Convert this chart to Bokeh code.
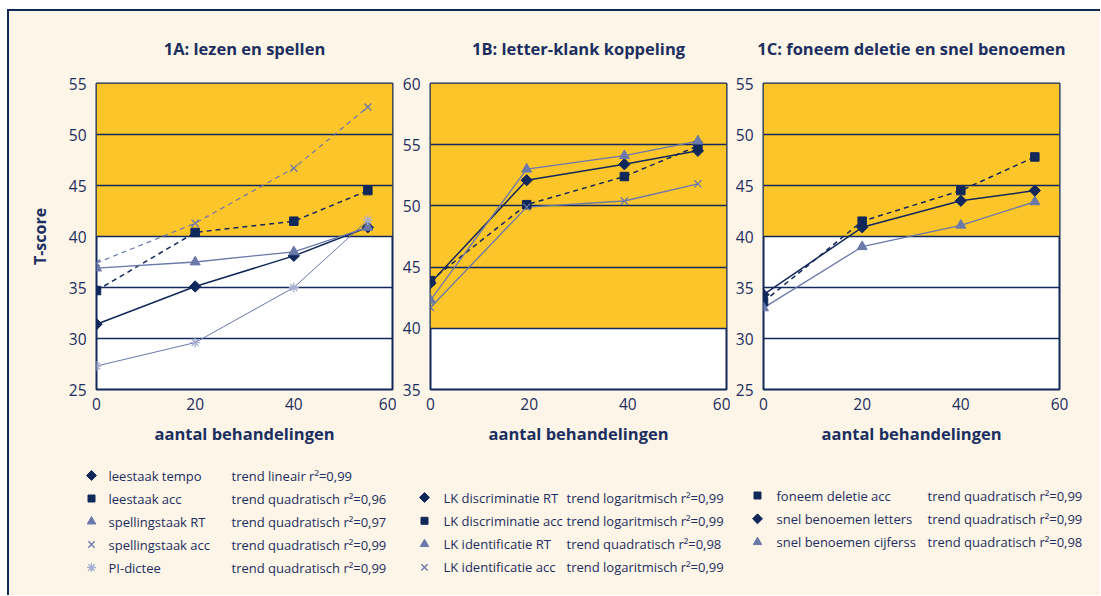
import math
from bokeh.plotting import figure
from bokeh.layouts import row, column
from bokeh.models import Range1d, BoxAnnotation, SingleIntervalTicker, ColumnDataSource
from bokeh.core.properties import value
from bokeh.embed import file_html
from bokeh.resources import INLINE

NAVY = "#11285b"
SLATE = "#6a78aa"
LIGHT = "#a7afd2"
YELLOW = "#fcc52a"
CREAM = "#fdf5e7"
TEXT = "#1b2e60"
FONT = "Open Sans"

# ---------------- data ----------------
sessions = [0, 20, 40, 55]
sessions_1b = [0, 19.5, 39.3, 54.2]
norm_threshold = 40

# 1A: lezen en spellen
leestaak_tempo = [31.4, 35.1, 38.1, 40.9]
leestaak_acc = [34.7, 40.4, 41.5, 44.5]
spellingstaak_rt = [36.9, 37.5, 38.5, 40.9]
spellingstaak_acc = [37.4, 41.3, 46.7, 52.7]
pi_dictee = [27.3, 29.6, 35.0, 41.6]

# 1B: letter-klank koppeling
lk_discriminatie_rt = [43.7, 52.1, 53.4, 54.5]
lk_discriminatie_acc = [43.9, 50.1, 52.4, 54.9]
lk_identificatie_rt = [42.3, 53.0, 54.1, 55.3]
lk_identificatie_acc = [41.7, 49.9, 50.4, 51.8]

# 1C: foneem deletie en snel benoemen
foneem_deletie_acc = [33.6, 41.5, 44.5, 47.8]
snel_benoemen_letters = [34.3, 40.9, 43.5, 44.5]
snel_benoemen_cijfers = [33.0, 39.0, 41.1, 43.4]

titles = ["1A: lezen en spellen", "1B: letter-klank koppeling", "1C: foneem deletie en snel benoemen"]
y_ranges = [(25, 55), (35, 60), (25, 55)]
x_label = "aantal behandelingen"
y_label = "T-score"

series_1a = [
    dict(name="leestaak tempo", trend="trend lineair r\u00b2=0,99", y=leestaak_tempo, marker="diamond", color=NAVY, line=NAVY, dash="solid", lw=1.5),
    dict(name="leestaak acc", trend="trend quadratisch r\u00b2=0,96", y=leestaak_acc, marker="square", color=NAVY, line=NAVY, dash="5 4", lw=1.5),
    dict(name="spellingstaak RT", trend="trend quadratisch r\u00b2=0,97", y=spellingstaak_rt, marker="triangle", color=SLATE, line=SLATE, dash="solid", lw=1.3),
    dict(name="spellingstaak acc", trend="trend quadratisch r\u00b2=0,99", y=spellingstaak_acc, marker="x", color=SLATE, line=SLATE, dash="5 4", lw=1.2),
    dict(name="PI-dictee", trend="trend quadratisch r\u00b2=0,99", y=pi_dictee, marker="asterisk", color=LIGHT, line=SLATE, dash="solid", lw=1.0),
]
series_1b = [
    dict(name="LK discriminatie RT", trend="trend logaritmisch r\u00b2=0,99", y=lk_discriminatie_rt, marker="diamond", color=NAVY, line=NAVY, dash="solid", lw=1.5),
    dict(name="LK discriminatie acc", trend="trend logaritmisch r\u00b2=0,99", y=lk_discriminatie_acc, marker="square", color=NAVY, line=NAVY, dash="5 4", lw=1.5),
    dict(name="LK identificatie RT", trend="trend quadratisch r\u00b2=0,98", y=lk_identificatie_rt, marker="triangle", color=SLATE, line=SLATE, dash="solid", lw=1.3),
    dict(name="LK identificatie acc", trend="trend logaritmisch r\u00b2=0,99", y=lk_identificatie_acc, marker="x", color=SLATE, line=SLATE, dash="solid", lw=1.3),
]
series_1c = [
    dict(name="foneem deletie acc", trend="trend quadratisch r\u00b2=0,99", y=foneem_deletie_acc, marker="square", color=NAVY, line=NAVY, dash="5 4", lw=1.5),
    dict(name="snel benoemen letters", trend="trend quadratisch r\u00b2=0,99", y=snel_benoemen_letters, marker="diamond", color=NAVY, line=NAVY, dash="solid", lw=1.5),
    dict(name="snel benoemen cijferss", trend="trend quadratisch r\u00b2=0,98", y=snel_benoemen_cijfers, marker="triangle", color=SLATE, line=SLATE, dash="solid", lw=1.3),
]

# marker styles (chart size, legend size)
MARKER_STYLE = {
    "diamond": dict(marker="square", angle=math.pi / 4, size=8, leg=7),
    "square": dict(marker="square", angle=0.0, size=8.5, leg=7),
    "triangle": dict(marker="triangle", angle=0.0, size=10, leg=8.5),
    "x": dict(marker="x", angle=0.0, size=10, leg=9),
    "asterisk": dict(marker="asterisk", angle=0.0, size=10, leg=9),
}

# ---------------- layout constants ----------------
TOP_H = 444
FRAME_BOTTOM = 66
LEG_H = 140


def draw_marker(p, xs, ys, s, legend=False):
    st = MARKER_STYLE[s["marker"]]
    size = st["leg"] if legend else st["size"]
    if s["marker"] in ("x", "asterisk"):
        p.scatter(xs, ys, marker=st["marker"], size=size, line_color=s["color"],
                  line_width=1.3, fill_color=None)
    else:
        p.scatter(xs, ys, marker=st["marker"], angle=st["angle"], size=size,
                  fill_color=s["color"], line_color=s["color"], line_width=1)


def panel(idx, series, xs, width, left, right, show_ylabel):
    y0, y1 = y_ranges[idx]
    p = figure(width=width, height=TOP_H, x_range=Range1d(0, 60), y_range=Range1d(y0, y1),
               output_backend="svg", toolbar_location=None,
               min_border_left=left, min_border_right=right,
               min_border_top=0, min_border_bottom=FRAME_BOTTOM)
    p.title.text = titles[idx]
    p.title.align = "center"
    p.title.text_font = FONT
    p.title.text_font_size = "16.5px"
    p.title.text_font_style = "bold"
    p.title.text_color = TEXT
    p.title.standoff = 47
    p.background_fill_color = "white"
    p.border_fill_color = CREAM
    p.outline_line_color = NAVY
    p.outline_line_width = 2

    band = BoxAnnotation(bottom=norm_threshold, fill_color=YELLOW, fill_alpha=1.0,
                         line_color=None, level="image")
    p.add_layout(band)

    p.xgrid.grid_line_color = None
    p.ygrid.grid_line_color = NAVY
    p.ygrid.grid_line_width = 1.6
    p.ygrid.level = "underlay"

    p.xaxis.ticker = SingleIntervalTicker(interval=20)
    p.yaxis.ticker = SingleIntervalTicker(interval=5)
    p.ygrid.ticker = SingleIntervalTicker(interval=5)
    for ax in (p.xaxis[0], p.yaxis[0]):
        ax.axis_line_color = None
        ax.major_tick_line_color = None
        ax.minor_tick_line_color = None
        ax.major_tick_out = 0
        ax.major_tick_in = 0
        ax.minor_tick_out = 0
        ax.minor_tick_in = 0
        ax.major_label_text_font = FONT
        ax.major_label_text_font_size = "15.5px"
        ax.major_label_text_color = TEXT
    p.xaxis.major_label_standoff = 8
    p.yaxis.major_label_standoff = 10
    p.xaxis.axis_label = x_label
    p.xaxis.axis_label_text_font = FONT
    p.xaxis.axis_label_text_font_size = "16.5px"
    p.xaxis.axis_label_text_font_style = "bold"
    p.xaxis.axis_label_text_color = TEXT
    p.xaxis.axis_label_standoff = 9
    if show_ylabel:
        p.yaxis.axis_label = y_label
        p.yaxis.axis_label_text_font = FONT
        p.yaxis.axis_label_text_font_size = "16px"
        p.yaxis.axis_label_text_font_style = "bold"
        p.yaxis.axis_label_text_color = TEXT
        p.yaxis.axis_label_standoff = 15

    for s in series:
        p.line(xs, s["y"], line_color=s["line"], line_width=s["lw"], line_dash=s["dash"])
    for s in series:
        draw_marker(p, xs, s["y"], s)
    return p


def legend_fig(series, width, mx, nx, tx, y_first, step):
    p = figure(width=width, height=LEG_H, x_range=Range1d(0, width), y_range=Range1d(LEG_H, 0),
               output_backend="svg", toolbar_location=None, min_border=0,
               x_axis_location=None, y_axis_location=None)
    p.grid.visible = False
    p.outline_line_color = None
    p.background_fill_color = CREAM
    p.border_fill_color = CREAM
    ys = [y_first + step * i for i in range(len(series))]
    for s, yy in zip(series, ys):
        draw_marker(p, [mx], [yy], s, legend=True)
    src = ColumnDataSource(dict(y=ys, name=[s["name"] for s in series], trend=[s["trend"] for s in series]))
    p.text(x=nx, y="y", text="name", source=src, text_font=value(FONT), text_font_size="13px",
           text_color=TEXT, text_baseline="middle")
    p.text(x=tx, y="y", text="trend", source=src, text_font=value(FONT), text_font_size="13px",
           text_color=TEXT, text_baseline="middle")
    return p


pA = panel(0, series_1a, sessions, 387, 87, 4, True)
pB = panel(1, series_1b, sessions_1b, 334, 34, 4, False)
pC = panel(2, series_1c, sessions, 370, 33, 41, False)

lA = legend_fig(series_1a, 387, 82, 99, 222, 20, 23)
lB = legend_fig(series_1b, 334, 28, 47, 170, 42, 23.3)
lC = legend_fig(series_1c, 370, 27, 46, 197, 40, 23.3)

layout = column(row(pA, pB, pC), row(lA, lB, lC),
                styles={"border-top": "2px solid " + NAVY, "border-left": "2px solid " + NAVY,
                        "background-color": CREAM, "margin-left": "7px", "margin-top": "9px"})

open("out.html", "w").write(file_html(layout, INLINE))
